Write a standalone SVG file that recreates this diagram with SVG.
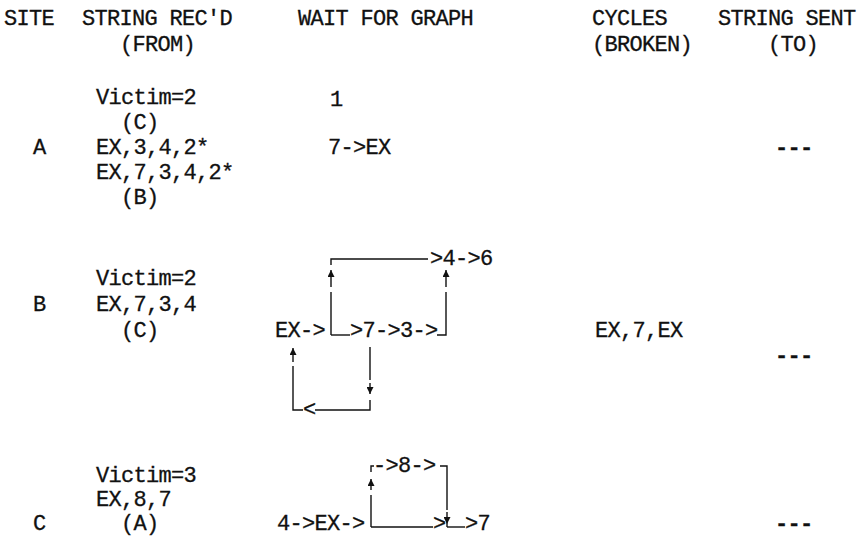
<svg xmlns="http://www.w3.org/2000/svg" width="865" height="554" viewBox="0 0 865 554">
<style>
.t{font-family:"Liberation Mono","Courier New",monospace;font-size:22px;letter-spacing:-0.7px;fill:#111;stroke:#111;stroke-width:0.3;}
.ln{stroke:#111;stroke-width:1.4;fill:none;}
.b{font-weight:bold;}
</style>
<defs>
<marker id="ah" viewBox="0 0 8 8" refX="8" refY="4" markerWidth="7" markerHeight="7" orient="auto" markerUnits="userSpaceOnUse">
<path d="M0,0 L8,4 L0,8 Z" fill="#111"/>
</marker>
</defs>
<rect width="865" height="554" fill="#fff"/>
<g id="header">
<text class="t" x="4" y="25">SITE</text>
<text class="t" x="82" y="25">STRING REC'D</text>
<text class="t" x="120" y="51">(FROM)</text>
<text class="t" x="298" y="25">WAIT FOR GRAPH</text>
<text class="t" x="592" y="25">CYCLES</text>
<text class="t" x="592" y="51">(BROKEN)</text>
<text class="t" x="718" y="25">STRING SENT</text>
<text class="t" x="768" y="51">(TO)</text>
</g>
<g id="siteA">
<text class="t" x="96" y="104">Victim=2</text>
<text class="t" x="121" y="129">(C)</text>
<text class="t" x="33" y="154">A</text>
<text class="t" x="96" y="154">EX,3,4,2*</text>
<text class="t" x="96" y="179">EX,7,3,4,2*</text>
<text class="t" x="121" y="204">(B)</text>
<text class="t" x="330" y="106">1</text>
<text class="t" x="328" y="154">7-&gt;EX</text>
<text class="t b" x="775" y="154">---</text>
</g>
<g id="siteB">
<text class="t" x="96" y="285">Victim=2</text>
<text class="t" x="33" y="311">B</text>
<text class="t" x="96" y="311">EX,7,3,4</text>
<text class="t" x="121" y="337">(C)</text>
<text class="t" x="275" y="337">EX-&gt;</text>
<text class="t" x="350" y="337">&gt;7-&gt;3-&gt;</text>
<text class="t" x="430" y="265">&gt;4-&gt;6</text>
<text class="t" x="303" y="416">&lt;</text>
<text class="t" x="595" y="337">EX,7,EX</text>
<text class="t b" x="775" y="362">---</text>
</g>
<g id="siteC">
<text class="t" x="96" y="482">Victim=3</text>
<text class="t" x="96" y="506">EX,8,7</text>
<text class="t" x="33" y="530">C</text>
<text class="t" x="121" y="530">(A)</text>
<text class="t" x="277" y="530">4-&gt;EX-&gt;</text>
<text class="t" x="433" y="530">&gt;</text>
<text class="t" x="465" y="530">&gt;7</text>
<text class="t" x="373" y="472">-&gt;8-&gt;</text>
<text class="t b" x="775" y="530">---</text>
</g>
<g id="connectors">
<path class="ln" d="M331,335 L331,292"/>
<path class="ln" d="M331,287 L331,270" marker-end="url(#ah)"/>
<path class="ln" d="M331,265 L331,259 L428,259"/>
<path class="ln" d="M331,335 L350,335"/>
<path class="ln" d="M437,335 L446,335 L446,292"/>
<path class="ln" d="M446,287 L446,270" marker-end="url(#ah)"/>
<path class="ln" d="M370,347 L370,380"/>
<path class="ln" d="M370,383 L370,394" marker-end="url(#ah)"/>
<path class="ln" d="M370,400 L370,410 L315,410"/>
<path class="ln" d="M303,410 L293,410 L293,366"/>
<path class="ln" d="M293,362 L293,348" marker-end="url(#ah)"/>
<path class="ln" d="M371,527 L433,527"/>
<path class="ln" d="M447,527 L465,527"/>
<path class="ln" d="M371,527 L371,495"/>
<path class="ln" d="M371,490 L371,479" marker-end="url(#ah)"/>
<path class="ln" d="M371,472 L371,466 L374,466"/>
<path class="ln" d="M440,466 L447,466 L447,510"/>
<path class="ln" d="M447,512 L447,524" marker-end="url(#ah)"/>
<path class="ln" d="M447,524 L447,527"/>
</g>
</svg>
